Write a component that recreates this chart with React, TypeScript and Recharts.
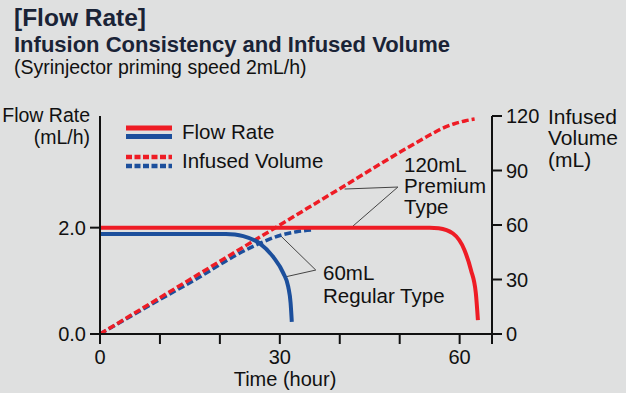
import React from 'react';
import { LineChart, Line, XAxis, YAxis, Legend, ReferenceLine } from 'recharts';

// time in hours, flow in mL/h, volume in mL
const premiumFlow = [
  { t: 0, v: 2.0 }, { t: 55, v: 2.0 }, { t: 56.5, v: 1.99 }, { t: 58.9, v: 1.89 },
  { t: 60.8, v: 1.58 }, { t: 61.9, v: 1.2 }, { t: 62.7, v: 0.77 }, { t: 63.05, v: 0.26 },
];
const regularFlow = [
  { t: 0, v: 1.88 }, { t: 21, v: 1.88 }, { t: 22.5, v: 1.87 }, { t: 23.9, v: 1.84 },
  { t: 26.7, v: 1.7 }, { t: 28.9, v: 1.45 }, { t: 30.6, v: 1.14 }, { t: 31.4, v: 0.89 },
  { t: 31.8, v: 0.58 }, { t: 32, v: 0.23 },
];
const premiumVolume = [
  { t: 0, v: 0 }, { t: 10, v: 20 }, { t: 20, v: 40 }, { t: 30, v: 60 }, { t: 40, v: 80 },
  { t: 50, v: 100 }, { t: 55, v: 109.5 }, { t: 57, v: 113 }, { t: 59, v: 115.6 },
  { t: 61, v: 117.4 }, { t: 62.5, v: 118.3 },
];
const regularVolume = [
  { t: 0, v: 0 }, { t: 10, v: 19 }, { t: 16.7, v: 31.5 }, { t: 22.2, v: 42.5 },
  { t: 26.7, v: 50 }, { t: 30.3, v: 54.5 }, { t: 32.8, v: 56.3 }, { t: 35.5, v: 57.3 },
];

const timeTicks = [0, 10, 20, 30, 40, 50, 60, 65.4];
const timeLabels = [0, 30, 60];
const flowTicks = [0, 2];
const volumeTicks = [0, 30, 60, 90, 120];

// leader lines for the annotations: [from, to] in (hour, mL)
const premiumLeaders = [
  [{ x: 49.7, y: 80.9 }, { x: 40.8, y: 79.8 }],
  [{ x: 49.7, y: 80.9 }, { x: 42.2, y: 59.4 }],
];
const regularLeaders = [
  [{ x: 36, y: 35.2 }, { x: 30, y: 54.5 }],
  [{ x: 36, y: 35.2 }, { x: 31, y: 31.5 }],
];

const RED = '#ee1c25';
const BLUE = '#1c4f9c';
const INK = '#111';
const FONT = '"Liberation Sans", Arial, Helvetica, sans-serif';

const Txt = ({ x, y, size, bold, right, color, children }: any) => (
  <div
    style={{
      position: 'absolute',
      top: y - 0.8465 * size,
      left: right ? undefined : x,
      right: right ? 626 - x : undefined,
      fontSize: size,
      lineHeight: 1,
      fontWeight: bold ? 700 : 400,
      color: color || INK,
      whiteSpace: 'nowrap',
      fontFamily: FONT,
    }}
  >
    {children}
  </div>
);

const LegendBox = () => (
  <svg width={240} height={60}>
    <line x1={6} x2={52} y1={10} y2={10} stroke={RED} strokeWidth={5} />
    <line x1={6} x2={52} y1={18.5} y2={18.5} stroke={BLUE} strokeWidth={5} />
    <line x1={6} x2={52} y1={39} y2={39} stroke={RED} strokeWidth={4.5} strokeDasharray="6 2.5" />
    <line x1={6} x2={52} y1={48} y2={48} stroke={BLUE} strokeWidth={4.5} strokeDasharray="6 2.5" />
    <text x={62} y={21} fontSize={20.5} fill={INK} fontFamily={FONT}>Flow Rate</text>
    <text x={62} y={50} fontSize={20.5} fill={INK} fontFamily={FONT}>Infused Volume</text>
  </svg>
);

const App = () => {
  const tickStyle = { fill: INK, fontSize: 20, fontFamily: FONT };
  return (
    <div style={{ position: 'absolute', left: 0, top: 0, width: 626, height: 393, background: '#dfe0e0', overflow: 'hidden' }}>
      <LineChart width={626} height={393} margin={{ top: 116, right: 0, bottom: 0, left: 0 }} style={{ fontFamily: FONT }}>
        <XAxis
          dataKey="t"
          type="number"
          domain={[0, 65.4]}
          ticks={timeTicks}
          tickFormatter={(v: number) => (timeLabels.includes(v) ? String(v) : '')}
          height={59}
          tickSize={10}
          tickMargin={6}
          stroke={INK}
          strokeWidth={2}
          tick={tickStyle}
          allowDataOverflow
        />
        <YAxis
          yAxisId="flow"
          orientation="left"
          domain={[0, 4.1]}
          ticks={flowTicks}
          tickFormatter={(v: number) => v.toFixed(1)}
          width={100}
          tickSize={10}
          tickMargin={4}
          stroke={INK}
          strokeWidth={2}
          tick={tickStyle}
          allowDataOverflow
        />
        <YAxis
          yAxisId="vol"
          orientation="right"
          domain={[0, 120]}
          ticks={volumeTicks}
          width={134}
          tickSize={10}
          tickMargin={4}
          stroke={INK}
          strokeWidth={2}
          tick={tickStyle}
          allowDataOverflow
        />
        <Legend
          layout="horizontal"
          verticalAlign="middle"
          align="center"
          content={() => <LegendBox />}
          wrapperStyle={{ top: 118, left: 120, width: 240, height: 60 }}
        />
        {premiumLeaders.concat(regularLeaders).map((seg, i) => (
          <ReferenceLine key={i} yAxisId="vol" segment={seg} stroke="#444" strokeWidth={1} />
        ))}
        <Line data={regularVolume} dataKey="v" yAxisId="vol" type="monotone" stroke={BLUE} strokeWidth={3.5} strokeDasharray="7 3" dot={false} isAnimationActive={false} />
        <Line data={premiumVolume} dataKey="v" yAxisId="vol" type="monotone" stroke={RED} strokeWidth={3.5} strokeDasharray="7 3" dot={false} isAnimationActive={false} />
        <Line data={regularFlow} dataKey="v" yAxisId="flow" type="monotone" stroke={BLUE} strokeWidth={4} dot={false} isAnimationActive={false} />
        <Line data={premiumFlow} dataKey="v" yAxisId="flow" type="monotone" stroke={RED} strokeWidth={4} dot={false} isAnimationActive={false} />
      </LineChart>

      <Txt x={14} y={27} size={24.5} bold color="#1a2336">[Flow Rate]</Txt>
      <Txt x={14} y={53} size={22} bold color="#1a2336">Infusion Consistency and Infused Volume</Txt>
      <Txt x={14} y={75} size={19.5}>(Syrinjector priming speed 2mL/h)</Txt>

      <Txt x={90} y={123} size={19.5} right>Flow Rate</Txt>
      <Txt x={90} y={145} size={19.5} right>(mL/h)</Txt>

      <Txt x={548} y={124} size={21}>Infused</Txt>
      <Txt x={548} y={145} size={21}>Volume</Txt>
      <Txt x={548} y={167} size={21}>(mL)</Txt>

      <div style={{ position: 'absolute', left: 185, width: 200, textAlign: 'center', top: 386 - 0.8465 * 20, fontSize: 20, lineHeight: 1, color: INK, fontFamily: FONT }}>
        Time (hour)
      </div>

      <Txt x={404} y={172} size={20.5}>120mL</Txt>
      <Txt x={404} y={193} size={20.5}>Premium</Txt>
      <Txt x={404} y={214} size={20.5}>Type</Txt>

      <Txt x={323} y={280} size={20.5}>60mL</Txt>
      <Txt x={323} y={303} size={20.5}>Regular Type</Txt>
    </div>
  );
};

export default App;
